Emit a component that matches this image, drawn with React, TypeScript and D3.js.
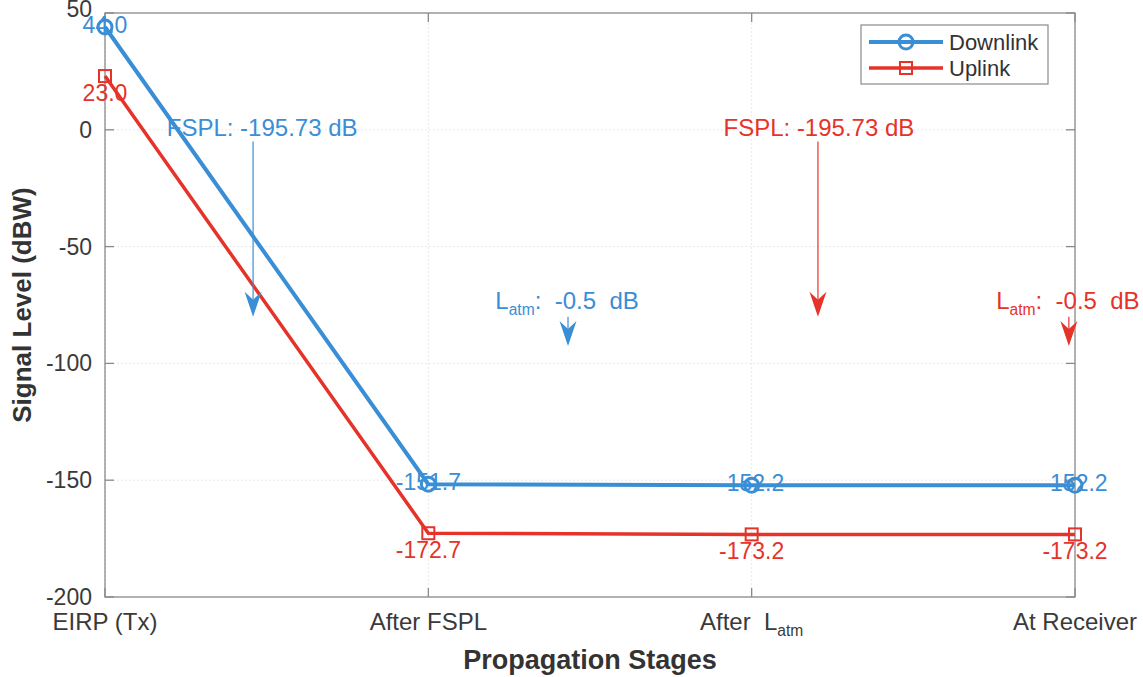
import React from "react";
import * as d3 from "d3";

// propagation stages (x categories)
const stages = ["EIRP (Tx)", "After FSPL", "After\u00a0 L_atm", "At Receiver"];
const downlink = [44.0, -151.7, -152.2, -152.2];
const uplink = [23.0, -172.7, -173.2, -173.2];
const yTicks = [50, 0, -50, -100, -150, -200];

const BLUE = "#3a8ed6";
const RED = "#e6332a";

// annotation arrows, x in stage index units, y in dBW
const notes = [
  { text: "FSPL: -195.73 dB", color: BLUE, tx: 0.486, ty: 1, ax: 0.458, from: -5, to: -80 },
  { text: "FSPL: -195.73 dB", color: RED, tx: 2.208, ty: 1, ax: 2.205, from: -5, to: -80 },
  { text: "L_atm:\u00a0 -0.5\u00a0 dB", color: BLUE, tx: 1.429, ty: -73, ax: 1.432, from: -80, to: -92.5 },
  { text: "L_atm:\u00a0 -0.5\u00a0 dB", color: RED, tx: 2.978, ty: -73, ax: 2.981, from: -80, to: -92.5 },
];

const W = 1143;
const H = 677;
const margin = { left: 105, right: 68, top: 13, bottom: 80 };

// renders "L_atm" with a subscript
function subText(s: string, size: number) {
  const parts = s.split("_atm");
  if (parts.length === 1) return s;
  return (
    <>
      {parts[0]}
      <tspan fontSize={size * 0.65} dy={size * 0.25}>atm</tspan>
      <tspan dy={-size * 0.25}>{parts[1]}</tspan>
    </>
  );
}

export default function App() {
  const x = d3.scaleLinear().domain([0, stages.length - 1]).range([margin.left, W - margin.right]);
  const y = d3.scaleLinear().domain([-200, 50]).range([H - margin.bottom, margin.top]);
  const line = d3.line<number>().x((_, i) => x(i)).y((d) => y(d));

  const x0 = x.range()[0], x1 = x.range()[1];
  const y0 = y.range()[0], y1 = y.range()[1];
  const font = "'Liberation Sans', Arial, Helvetica, sans-serif";

  const arrowHead = (cx: number, tip: number, color: string) => {
    const L = 25, w = 8.5;
    return (
      <path
        d={`M${cx},${tip} L${cx - w},${tip - L} L${cx},${tip - L * 0.68} L${cx + w},${tip - L} Z`}
        fill={color}
      />
    );
  };

  return (
    <svg
      width={W}
      height={H}
      style={{ position: "absolute", left: 0, top: 0, background: "#fff" }}
      fontFamily={font}
    >
      {/* grid */}
      {yTicks.map((t) => (
        <line key={"gy" + t} x1={x0} x2={x1} y1={y(t)} y2={y(t)} stroke="#e8e8e8" strokeDasharray="2,2" />
      ))}
      {stages.map((s, i) => (
        <line key={"gx" + i} x1={x(i)} x2={x(i)} y1={y0} y2={y1} stroke="#e8e8e8" strokeDasharray="2,2" />
      ))}

      {/* axes box */}
      <rect x={x0} y={y1} width={x1 - x0} height={y0 - y1} fill="none" stroke="#8a8a8a" strokeWidth={1.3} />
      {yTicks.map((t) => (
        <g key={"ty" + t}>
          <line x1={x0} x2={x0 + 9} y1={y(t)} y2={y(t)} stroke="#8a8a8a" strokeWidth={1.3} />
          <line x1={x1} x2={x1 - 9} y1={y(t)} y2={y(t)} stroke="#8a8a8a" strokeWidth={1.3} />
          <text x={x0 - 13} y={t === 50 ? y(t) - 4 : y(t)} dy="0.35em" textAnchor="end" fontSize={23} fill="#3a3a3a">
            {t}
          </text>
        </g>
      ))}
      {stages.map((s, i) => (
        <g key={"tx" + i}>
          <line x1={x(i)} x2={x(i)} y1={y0} y2={y0 - 9} stroke="#8a8a8a" strokeWidth={1.3} />
          <line x1={x(i)} x2={x(i)} y1={y1} y2={y1 + 9} stroke="#8a8a8a" strokeWidth={1.3} />
          <text x={x(i)} y={y0 + 33} textAnchor="middle" fontSize={24} fill="#3a3a3a">
            {subText(s, 24)}
          </text>
        </g>
      ))}

      {/* axis titles */}
      <text x={(x0 + x1) / 2} y={H - 8} textAnchor="middle" fontSize={27} fontWeight="bold" fill="#333">
        Propagation Stages
      </text>
      <text
        transform={`translate(31,${(y0 + y1) / 2}) rotate(-90)`}
        textAnchor="middle"
        fontSize={26}
        fontWeight="bold"
        fill="#333"
      >
        Signal Level (dBW)
      </text>

      {/* series */}
      <path d={line(downlink) || ""} fill="none" stroke={BLUE} strokeWidth={4} />
      <path d={line(uplink) || ""} fill="none" stroke={RED} strokeWidth={3.5} />
      {downlink.map((d, i) => (
        <circle key={"cd" + i} cx={x(i)} cy={y(d)} r={7} fill="none" stroke={BLUE} strokeWidth={3} />
      ))}
      {uplink.map((d, i) => (
        <rect key={"ru" + i} x={x(i) - 6} y={y(d) - 6} width={12} height={12} fill="none" stroke={RED} strokeWidth={2} />
      ))}
      {downlink.map((d, i) => (
        <text key={"ld" + i} x={x(i)} y={y(d) - 2} dy="0.35em" textAnchor="middle" fontSize={23} fill={BLUE}>
          {d.toFixed(1)}
        </text>
      ))}
      {uplink.map((d, i) => (
        <text key={"lu" + i} x={x(i)} y={y(d) + 17} dy="0.35em" textAnchor="middle" fontSize={23} fill={RED}>
          {d.toFixed(1)}
        </text>
      ))}

      {/* annotations */}
      {notes.map((n, i) => (
        <g key={"n" + i}>
          <text x={x(n.tx)} y={y(n.ty)} dy="0.35em" textAnchor="middle" fontSize={24} fill={n.color}>
            {subText(n.text, 24)}
          </text>
          <line x1={x(n.ax)} x2={x(n.ax)} y1={y(n.from)} y2={y(n.to) - 10} stroke={n.color} strokeWidth={1.2} />
          {arrowHead(x(n.ax), y(n.to), n.color)}
        </g>
      ))}

      {/* legend */}
      <g>
        <rect x={861} y={25} width={187} height={59} fill="#fff" stroke="#8a8a8a" strokeWidth={1.2} />
        <line x1={869} x2={943} y1={42} y2={42} stroke={BLUE} strokeWidth={4} />
        <circle cx={906} cy={42} r={7} fill="none" stroke={BLUE} strokeWidth={3} />
        <text x={949} y={42} dy="0.35em" fontSize={22} fill="#333">Downlink</text>
        <line x1={869} x2={943} y1={68} y2={68} stroke={RED} strokeWidth={3.5} />
        <rect x={900} y={62} width={12} height={12} fill="none" stroke={RED} strokeWidth={2} />
        <text x={949} y={68} dy="0.35em" fontSize={22} fill="#333">Uplink</text>
      </g>
    </svg>
  );
}
